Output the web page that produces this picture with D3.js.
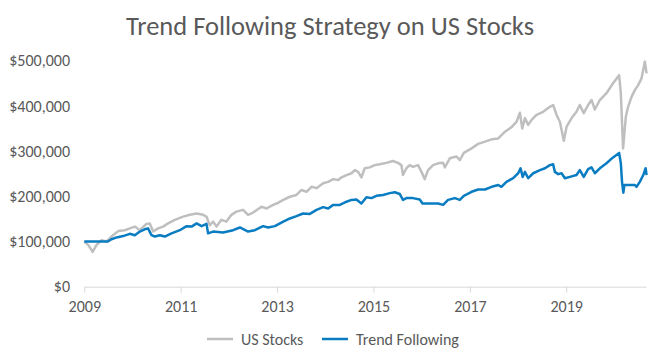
<!DOCTYPE html>
<html>
<head>
<meta charset="utf-8">
<script src="https://cdn.jsdelivr.net/npm/d3@7"></script>
<style>
  html, body { margin: 0; padding: 0; background: #ffffff; }
  svg { display: block; }
  text { font-family: Carlito, "Open Sans", sans-serif; fill: #595959; }
</style>
</head>
<body>
<svg id="chart" width="661" height="361"></svg>
<script>
const chartTitle = "Trend Following Strategy on US Stocks";
const seriesNames = ["US Stocks", "Trend Following"];
const xTickYears = [2009, 2011, 2013, 2015, 2017, 2019];
const yTickValues = [0, 100000, 200000, 300000, 400000, 500000];
const xDomain = ["2009-01-01", "2020-09-02"];

const usDates = ["2009-01-01","2009-02-01","2009-03-05","2009-04-03","2009-05-11","2009-06-18","2009-07-26","2009-09-15","2009-11-04","2009-12-12",
"2010-01-19","2010-02-26","2010-04-17","2010-05-12","2010-06-07","2010-07-14","2010-08-21","2010-09-28","2010-11-18",
"2011-01-20","2011-03-12","2011-05-02","2011-06-21","2011-07-16","2011-08-10","2011-09-04","2011-09-30","2011-11-06","2011-12-14",
"2012-01-21","2012-02-28","2012-04-18","2012-05-26","2012-07-03","2012-09-05","2012-10-13","2012-12-02","2012-12-28",
"2013-02-17","2013-04-08","2013-05-28","2013-07-05","2013-08-12","2013-09-19","2013-10-27","2013-12-16",
"2014-01-23","2014-03-02","2014-04-09","2014-05-05","2014-06-11","2014-07-19","2014-08-13","2014-09-07","2014-10-02","2014-10-27","2014-12-04",
"2015-01-11","2015-02-18","2015-04-09","2015-05-29","2015-07-06","2015-08-01","2015-08-13","2015-09-08","2015-10-03","2015-10-28","2015-12-05","2015-12-31",
"2016-01-25","2016-02-19","2016-03-28","2016-05-05","2016-06-12","2016-06-25","2016-08-02","2016-09-22","2016-10-17","2016-11-16",
"2017-01-14","2017-03-05","2017-04-25","2017-06-15","2017-08-04","2017-09-24","2017-11-13","2017-12-21",
"2018-01-15","2018-02-02","2018-02-22","2018-03-19","2018-04-14","2018-05-21","2018-07-10","2018-08-30","2018-09-24","2018-10-20","2018-11-14","2018-12-14",
"2019-01-04","2019-02-11","2019-03-20","2019-04-14","2019-05-14","2019-06-16","2019-07-12","2019-08-06","2019-09-13","2019-11-02","2019-12-22",
"2020-02-06","2020-02-19","2020-03-07","2020-03-28","2020-04-14","2020-05-10","2020-06-04","2020-06-29","2020-07-25","2020-08-19","2020-09-01"];
const usValues = [100000,92000,77000,92000,103000,100000,111000,123000,125000,129000,
133000,125000,139000,140000,122000,129000,133000,140000,148000,
155000,159000,162000,159000,155000,136000,144000,133000,148000,144000,
159000,166000,170000,159000,164000,177000,173000,181000,184000,
192000,199000,203000,214000,210000,221000,218000,229000,
232000,238000,236000,242000,247000,251000,258000,254000,242000,262000,264000,
269000,271000,274000,278000,274000,269000,247000,262000,269000,265000,269000,254000,
238000,258000,269000,273000,274000,264000,284000,288000,280000,296000,
306000,316000,321000,326000,328000,343000,353000,365000,
385000,350000,373000,358000,369000,380000,387000,398000,402000,380000,365000,323000,
354000,373000,387000,402000,384000,402000,413000,392000,413000,428000,450000,
468000,428000,306000,376000,398000,420000,435000,446000,461000,498000,472000];

const tfDates = ["2009-01-01","2009-06-28","2009-07-26","2009-09-03","2009-10-22","2009-12-12",
"2010-01-19","2010-02-26","2010-04-04","2010-04-29","2010-05-25","2010-06-19","2010-07-27","2010-09-03","2010-10-24","2010-12-26",
"2011-02-15","2011-03-25","2011-05-02","2011-06-09","2011-07-16","2011-07-28","2011-09-04","2011-11-18",
"2012-02-03","2012-03-25","2012-05-26","2012-07-16","2012-09-17","2012-10-25","2012-12-15",
"2013-02-17","2013-04-08","2013-05-28","2013-07-17","2013-09-06","2013-10-27","2013-12-16",
"2014-01-23","2014-03-02","2014-04-22","2014-06-11","2014-07-19","2014-08-25","2014-10-02","2014-11-09","2014-12-17",
"2015-01-24","2015-03-15","2015-05-05","2015-06-12","2015-07-20","2015-08-13","2015-09-08","2015-10-28","2015-12-18",
"2016-01-08","2016-03-03","2016-05-05","2016-06-12","2016-07-20","2016-09-09","2016-10-17","2016-11-16",
"2017-01-14","2017-03-05","2017-04-25","2017-06-15","2017-08-04","2017-08-28","2017-10-05","2017-11-25",
"2018-01-02","2018-01-20","2018-02-05","2018-02-22","2018-03-19","2018-04-26","2018-06-16","2018-07-24","2018-08-30","2018-09-24","2018-10-07","2018-11-01","2018-11-27","2018-12-22",
"2019-01-29","2019-03-20","2019-04-14","2019-05-14","2019-06-16","2019-07-12","2019-08-06","2019-09-13","2019-11-02","2019-12-22",
"2020-02-06","2020-02-19","2020-02-28","2020-03-09","2020-03-17","2020-04-26","2020-06-04","2020-06-17","2020-07-12","2020-08-07","2020-08-25","2020-09-01"];
const tfValues = [100000,100000,105000,109000,112000,117000,
114000,122000,127000,129000,114000,111000,114000,111000,118000,125000,
134000,133000,140000,134000,139000,118000,122000,120000,
125000,131000,122000,125000,134000,131000,134000,
144000,151000,156000,162000,161000,170000,176000,
173000,181000,181000,188000,192000,193000,184000,198000,196000,
201000,203000,207000,209000,205000,192000,196000,196000,193000,
184000,184000,184000,181000,192000,196000,192000,201000,
210000,215000,215000,221000,225000,221000,232000,240000,
251000,262000,243000,254000,240000,251000,258000,262000,269000,271000,254000,249000,251000,240000,
243000,247000,258000,243000,260000,264000,251000,262000,273000,286000,
296000,273000,232000,208000,225000,225000,225000,221000,232000,247000,262000,247000];

const svg = d3.select("#chart");
const parse = d3.timeParse("%Y-%m-%d");

const margin = { left: 84.3, right: 661 - 646.7, top: 60.7, bottom: 361 - 286.7 };
const x = d3.scaleTime().domain(xDomain.map(parse)).range([margin.left, 661 - margin.right]);
const y = d3.scaleLinear().domain([0, 500000]).range([361 - margin.bottom, margin.top]);

// Title
svg.append("text")
  .attr("x", 330).attr("y", 35)
  .attr("text-anchor", "middle")
  .style("font-size", "26.5px")
  .text(chartTitle);

// Y axis labels (no line, no gridlines)
const yAxis = d3.axisLeft(y).tickValues(yTickValues).tickSize(0).tickPadding(0)
  .tickFormat(d => "$" + d3.format(",")(d));
const gy = svg.append("g").attr("transform", "translate(70,0)").call(yAxis);
gy.select(".domain").remove();
gy.selectAll("text").style("font-size", "16px").attr("fill", "#595959").attr("font-family", null);

// X axis
const xAxis = d3.axisBottom(x)
  .tickValues(xTickYears.map(yr => new Date(yr, 0, 1)))
  .tickSize(6).tickPadding(8)
  .tickFormat(d3.timeFormat("%Y"));
const gx = svg.append("g").attr("transform", `translate(0,${y(0)})`).call(xAxis);
gx.select(".domain").attr("stroke", "#d9d9d9").attr("d", `M${x.range()[0]},0.5H${x.range()[1]}`);
gx.selectAll(".tick line").attr("stroke", "#d9d9d9");
gx.selectAll("text").style("font-size", "16px").attr("fill", "#595959").attr("font-family", null);

// Lines
const line = d3.line().x(d => x(d.date)).y(d => y(d.value));
const usData = usDates.map((d, i) => ({ date: parse(d), value: usValues[i] }));
const tfData = tfDates.map((d, i) => ({ date: parse(d), value: tfValues[i] }));
const colors = ["#bfbfbf", "#0a7dc2"];

svg.append("path").datum(usData)
  .attr("fill", "none").attr("stroke", colors[0]).attr("stroke-width", 2.5)
  .attr("stroke-linejoin", "round").attr("d", line);
svg.append("path").datum(tfData)
  .attr("fill", "none").attr("stroke", colors[1]).attr("stroke-width", 2.5)
  .attr("stroke-linejoin", "round").attr("d", line);

// Legend
const legendItems = [
  { name: seriesNames[0], color: colors[0], x: 207 },
  { name: seriesNames[1], color: colors[1], x: 322 }
];
const lg = svg.append("g");
legendItems.forEach(it => {
  lg.append("line").attr("x1", it.x).attr("x2", it.x + 26).attr("y1", 339).attr("y2", 339)
    .attr("stroke", it.color).attr("stroke-width", 2.5);
  lg.append("text").attr("x", it.x + 34).attr("y", 339).attr("dy", "0.35em")
    .style("font-size", "16px").text(it.name);
});
</script>
</body>
</html>
